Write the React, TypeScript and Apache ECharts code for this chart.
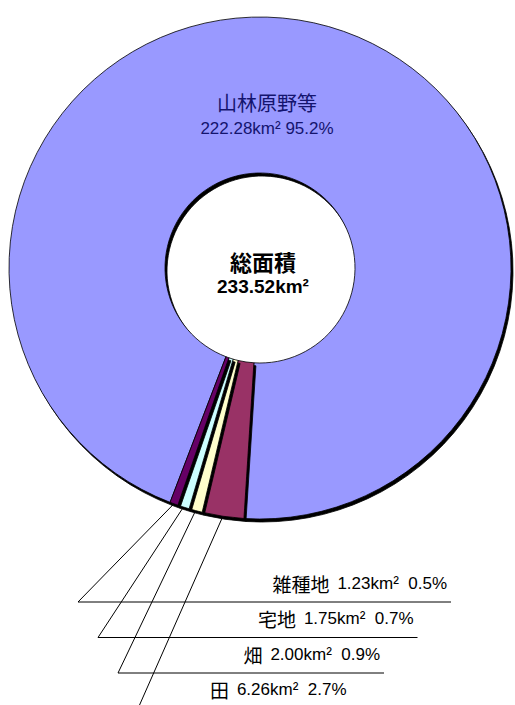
import React, { useEffect, useRef } from 'react';
import * as echarts from 'echarts';

const categories = ['山林原野等', '田', '畑', '宅地', '雑種地'];
const areas = [222.28, 6.26, 2.0, 1.75, 1.23];
const percents = [95.2, 2.7, 0.9, 0.7, 0.5];
const colors = ['#9999FF', '#993366', '#FFFFCC', '#CCFFFF', '#660066'];
const totalLabel = '総面積';
const totalArea = 233.52;

const W = 515;
const H = 705;
const CX = 260;
const CY = 268;
const R_IN = 95;
const R_OUT = 251;
const CJK = '"Noto Sans CJK JP", sans-serif';
const NUM = '"Liberation Sans", "Noto Sans CJK JP", sans-serif';

export default function App() {
  const ref = useRef<HTMLDivElement>(null);
  useEffect(() => {
    if (!ref.current) return;
    const chart = echarts.init(ref.current, undefined, { renderer: 'svg', width: W, height: H });
    const data = categories.map((name, i) => ({
      name,
      value: areas[i],
      itemStyle: { color: colors[i] },
      label:
        i === 0
          ? {
              position: 'inside',
              formatter: `{n|${name}}\n{v|${areas[i].toFixed(2)}km² ${percents[i].toFixed(1)}%}`,
              rich: {
                n: { fontSize: 20, fontFamily: CJK, color: '#14146e', lineHeight: 30, align: 'center' },
                v: { fontSize: 17, fontFamily: NUM, color: '#14146e', lineHeight: 22, align: 'center' },
              },
            }
          : {
              position: 'outside',
              formatter: `{n|${name}}{v|${areas[i].toFixed(2)}km²  ${percents[i].toFixed(1)}%}`,
              rich: {
                n: { fontSize: 19, fontFamily: CJK, color: '#000', padding: [0, 8, 0, 0] },
                v: { fontSize: 17, fontFamily: NUM, color: '#000' },
              },
            },
      labelLine: { show: i !== 0 },
    }));
    chart.setOption({
      animation: false,
      backgroundColor: '#fff',
      graphic: [
        {
          type: 'text',
          x: CX + 3,
          y: CY - 7,
          style: {
            text: totalLabel,
            font: `bold 22px ${CJK}`,
            fill: '#000',
            textAlign: 'center',
            textVerticalAlign: 'middle',
          },
        },
        {
          type: 'text',
          x: CX + 3,
          y: CY + 18,
          style: {
            text: `${totalArea.toFixed(2)}km²`,
            font: `bold 19px ${NUM}`,
            fill: '#000',
            textAlign: 'center',
            textVerticalAlign: 'middle',
          },
        },
      ],
      series: [
        {
          type: 'pie',
          center: [CX, CY],
          radius: [R_IN, R_OUT],
          startAngle: -111,
          clockwise: true,
          avoidLabelOverlap: false,
          silent: true,
          itemStyle: {
            borderColor: '#000',
            borderWidth: 0.8,
            shadowColor: '#000',
            shadowBlur: 1,
            shadowOffsetX: 2,
            shadowOffsetY: 3,
          },
          label: { show: true },
          labelLine: { length: 10, length2: 10, lineStyle: { color: '#000', width: 1 } },
          labelLayout: (p: any) => {
            const i = p.dataIndex;
            if (i === 0) {
              return { x: CX + 7, y: CY - 155, align: 'center', verticalAlign: 'middle' };
            }
            const row = categories.length - 1 - i;
            const lineY = 602 + row * 35.5;
            const right = 447 - row * 33.5;
            const bendX = 78 + row * 20;
            const start = p.labelLinePoints ? p.labelLinePoints[0] : [CX, CY + R_OUT];
            return {
              x: right,
              y: lineY - 19,
              align: 'right',
              verticalAlign: 'middle',
              labelLinePoints: [start, [bendX, lineY], [right + 4, lineY]],
            };
          },
          data,
        },
      ],
    });
    return () => chart.dispose();
  }, []);
  return <div ref={ref} style={{ position: 'absolute', left: 0, top: 0, width: W, height: H }} />;
}
